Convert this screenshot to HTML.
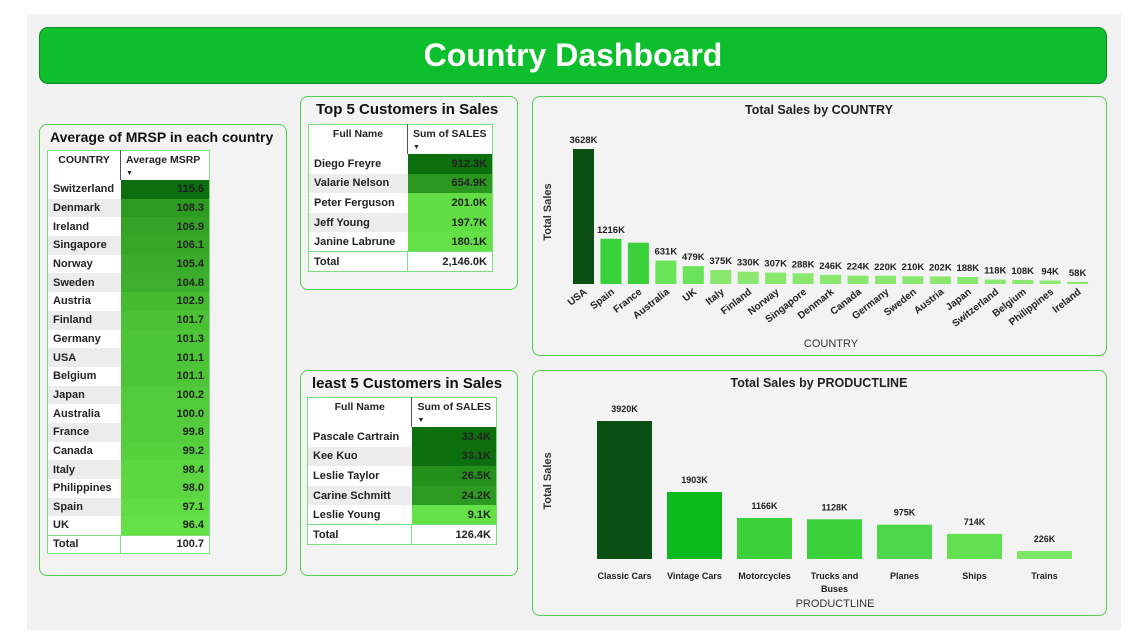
<!DOCTYPE html>
<html><head><meta charset="utf-8"><style>
body{margin:0;width:1142px;height:632px;background:#fff;font-family:"Liberation Sans",sans-serif;position:relative;overflow:hidden}
.bg{position:absolute;left:27px;top:14px;width:1094px;height:616px;background:#f1f1f1}
.panel{position:absolute;border:1px solid #4fcf4f;border-radius:8px;background:#f3f3f3}
.ttl{position:absolute;font-weight:bold;color:#111;white-space:nowrap}
table{position:absolute;border-collapse:collapse;font-size:11px;font-weight:bold;color:#222}
td{padding:0 5px;border:0;white-space:nowrap}
.hd td{background:#fff;height:22px;vertical-align:top;padding-top:3px;font-size:10.5px;line-height:12px}
.v{text-align:right}
</style></head><body>
<div class="bg"></div>
<div style="position:absolute;left:39px;top:27px;width:1066px;height:55px;background:#0dbf2c;border:1px solid #0a8a20;border-radius:9px;color:#fff;font-size:32px;font-weight:bold;text-align:center;line-height:55px">Country Dashboard</div>

<div class="panel" style="left:39px;top:124px;width:246px;height:450px">
<div class="ttl" style="left:10px;top:4px;font-size:14px">Average of MRSP in each country</div>
<table id="msrp" style="left:7px;top:25px;width:163px;border:1px solid #7be07b"></table>
</div>

<div class="panel" style="left:300px;top:96px;width:216px;height:192px">
<div class="ttl" style="left:15px;top:4px;font-size:15px">Top 5 Customers in Sales</div>
<table id="top5" style="left:7px;top:27px;width:185px;border:1px solid #7be07b"></table>
</div>
<div class="panel" style="left:300px;top:370px;width:216px;height:204px">
<div class="ttl" style="left:11px;top:4px;font-size:15px">least 5 Customers in Sales</div>
<table id="least5" style="left:6px;top:26px;width:190px;border:1px solid #7be07b"></table>
</div>

<div class="panel" style="left:532px;top:96px;width:573px;height:258px">
<svg id="c1" width="573" height="258" style="position:absolute;left:0;top:0" font-family="Liberation Sans, sans-serif" font-weight="bold"></svg></div>
<div class="panel" style="left:532px;top:370px;width:573px;height:244px">
<svg id="c2" width="573" height="244" style="position:absolute;left:0;top:0" font-family="Liberation Sans, sans-serif" font-weight="bold"></svg></div>

<script>
const msrpCountries=["Switzerland","Denmark","Ireland","Singapore","Norway","Sweden","Austria","Finland","Germany","USA","Belgium","Japan","Australia","France","Canada","Italy","Philippines","Spain","UK"];
const msrpValues=[115.6,108.3,106.9,106.1,105.4,104.8,102.9,101.7,101.3,101.1,101.1,100.2,100.0,99.8,99.2,98.4,98.0,97.1,96.4];
const msrpTotal="100.7";
const topNames=["Diego Freyre","Valarie Nelson","Peter Ferguson","Jeff Young","Janine Labrune"];
const topValues=[912.3,654.9,201.0,197.7,180.1];
const topTotal="2,146.0K";
const leastNames=["Pascale Cartrain","Kee Kuo","Leslie Taylor","Carine Schmitt","Leslie Young"];
const leastValues=[33.4,33.1,26.5,24.2,9.1];
const leastTotal="126.4K";
const countryCats=["USA","Spain","France","Australia","UK","Italy","Finland","Norway","Singapore","Denmark","Canada","Germany","Sweden","Austria","Japan","Switzerland","Belgium","Philippines","Ireland"];
const countrySales=[3628,1216,1110,631,479,375,330,307,288,246,224,220,210,202,188,118,108,94,58];
const countryLabels=["3628K","1216K","","631K","479K","375K","330K","307K","288K","246K","224K","220K","210K","202K","188K","118K","108K","94K","58K"];
const prodCats=["Classic Cars","Vintage Cars","Motorcycles","Trucks and|Buses","Planes","Ships","Trains"];
const prodSales=[3920,1903,1166,1128,975,714,226];

function mix(a,b,t){return 'rgb('+a.map((x,i)=>Math.round(x+(b[i]-x)*t)).join(',')+')';}
const dark=[12,110,12],light=[100,225,70];
function shade(v,min,max){return mix(light,dark,(v-min)/(max-min));}

function buildTable(id,h1,h2,names,vals,fmt,total,rowH,w1){
  const t=document.getElementById(id);
  const mn=Math.min(...vals),mx=Math.max(...vals);
  let hd=document.createElement('tr');hd.className='hd';
  
  
  hd.innerHTML='<td style="text-align:center;width:'+w1+'px;border-right:1px solid #555">'+h1+'</td><td>'+h2+'<br><span style="font-size:7px">&#9660;</span></td>';
  t.appendChild(hd);
  names.forEach((n,i)=>{
    const r=document.createElement('tr');
    
    
    r.style.height=rowH+'px';
    r.innerHTML='<td style="background:'+(i%2?'#ececec':'#fff')+'">'+n+'</td><td class="v" style="background:'+shade(vals[i],mn,mx)+'">'+fmt(vals[i])+'</td>';
    t.appendChild(r);
  });
  const r=document.createElement('tr');
  
  
  r.style.height=rowH+'px';
  r.innerHTML='<td style="background:#fff;border-top:1px solid #7be07b">Total</td><td class="v" style="background:#fff;border-top:1px solid #7be07b;border-left:1px solid #7be07b">'+total+'</td>';
  t.appendChild(r);
}
buildTable('msrp','COUNTRY','Average MSRP',msrpCountries,msrpValues,v=>v.toFixed(1),msrpTotal,18.7,62);
buildTable('top5','Full Name','Sum of SALES',topNames,topValues,v=>v.toFixed(1)+'K',topTotal,19.6,88);
buildTable('least5','Full Name','Sum of SALES',leastNames,leastValues,v=>v.toFixed(1)+'K',leastTotal,19.6,95);

const NS='http://www.w3.org/2000/svg';
function el(svg,tag,attrs,txt){const e=document.createElementNS(NS,tag);for(const k in attrs)e.setAttribute(k,attrs[k]);if(txt!==undefined)e.textContent=txt;svg.appendChild(e);return e;}

// Chart 1
(function(){
  const s=document.getElementById('c1');
  const x0=40,step=27.45,bw=21,base=187,maxH=135,maxV=Math.max(...countrySales);
  const y=v=>base-v/maxV*maxH;
  const t=el(s,'text',{x:286,y:17,'text-anchor':'middle','font-size':12.5,fill:'#222'},'Total Sales by COUNTRY');
  
  const yt=el(s,'text',{x:0,y:0,transform:'translate(18,115) rotate(-90)','text-anchor':'middle','font-size':11,fill:'#333'},'Total Sales');
  
  const xt=el(s,'text',{x:298,y:250,'text-anchor':'middle','font-size':11,'font-weight':'normal',fill:'#333'},'COUNTRY');
  
  countryCats.forEach((c,i)=>{
    const cx=x0+i*step;
    const col=i==0?'#0a4f14':(i<3?'#3bd13b':(i<5?'#6ae25a':'#8be86e'));
    const b=el(s,'rect',{x:cx,y:y(countrySales[i]),width:bw,height:base-y(countrySales[i]),fill:col});
    
    if(countryLabels[i]){const l=el(s,'text',{x:cx+bw/2,y:y(countrySales[i])-6,'text-anchor':'middle','font-size':9.5,fill:'#222'},countryLabels[i]);
    }
    const xl=el(s,'text',{x:0,y:0,transform:'translate('+(cx+bw/2+4)+','+(base+9)+') rotate(-38)','text-anchor':'end','font-size':10,fill:'#222'},c);
    
  });
})();
// Chart 2
(function(){
  const s=document.getElementById('c2');
  const x0=64,step=70,bw=55,base=188,maxH=138,maxV=Math.max(...prodSales);
  const y=v=>base-v/maxV*maxH;
  const cols=['#0a4f14','#0dba1e','#3bd13b','#3bd13b','#4cd84a','#62e052','#7de866'];
  const t=el(s,'text',{x:286,y:16,'text-anchor':'middle','font-size':12.5,fill:'#222'},'Total Sales by PRODUCTLINE');
  
  const yt=el(s,'text',{x:0,y:0,transform:'translate(18,110) rotate(-90)','text-anchor':'middle','font-size':11,fill:'#333'},'Total Sales');
  
  const xt=el(s,'text',{x:302,y:236,'text-anchor':'middle','font-size':11,'font-weight':'normal',fill:'#333'},'PRODUCTLINE');
  
  prodCats.forEach((c,i)=>{
    const cx=x0+i*step;
    const b=el(s,'rect',{x:cx,y:y(prodSales[i]),width:bw,height:base-y(prodSales[i]),fill:cols[i]});
    
    const l=el(s,'text',{x:cx+bw/2,y:y(prodSales[i])-9,'text-anchor':'middle','font-size':9,fill:'#222'},prodSales[i]+'K');
    
    c.split('|').forEach((p,j)=>{
      const xl=el(s,'text',{x:cx+bw/2,y:base+20+j*13,'text-anchor':'middle','font-size':9,fill:'#222'},p);
      
    });
  });
})();
</script>
</body></html>
